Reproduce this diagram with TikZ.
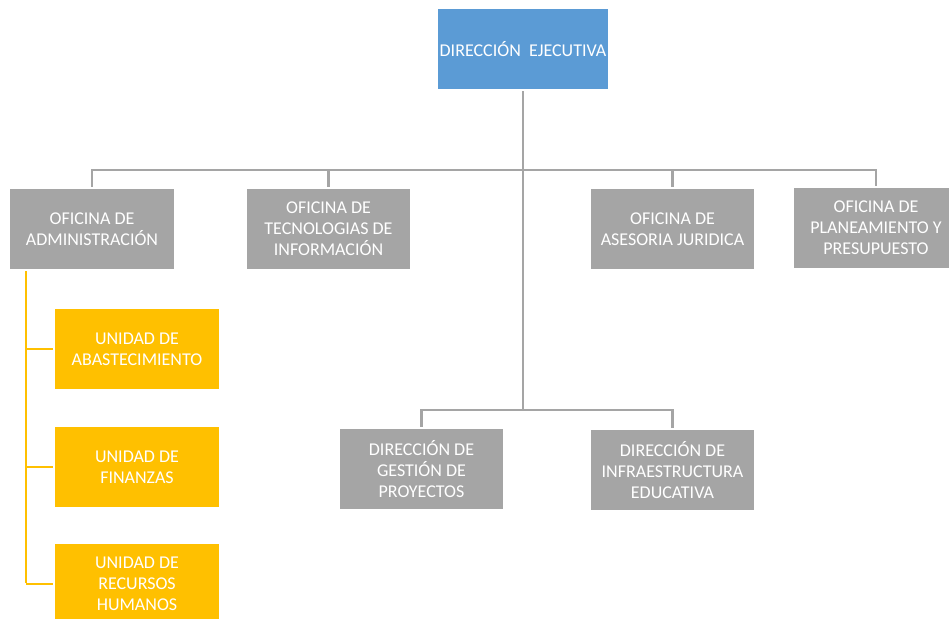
\documentclass[tikz,border=0pt]{standalone}
\usepackage{fontspec}
\setmainfont{Carlito}
\definecolor{boxblue}{HTML}{5B9BD5}
\definecolor{boxgray}{HTML}{A5A5A5}
\definecolor{boxyellow}{HTML}{FFC000}
\definecolor{linegray}{HTML}{A5A5A5}
\begin{document}
\begin{tikzpicture}[x=0.75pt,y=-0.75pt,
  orgbox/.style={rectangle, inner sep=0pt, outer sep=1.8pt, align=center, text=white,
    font=\fontsize{13.5pt}{15.75pt}\selectfont, minimum width=123pt, minimum height=60pt},
  topbox/.style={orgbox, fill=boxblue, minimum width=127.5pt},
  graybox/.style={orgbox, fill=boxgray},
  yellowbox/.style={orgbox, fill=boxyellow},
  gline/.style={draw=linegray, line width=1.6pt},
  yline/.style={draw=boxyellow, line width=1.6pt}]
\useasboundingbox (0,0) rectangle (949,618);
\fill[white] (0,0) rectangle (949,618);

\node[topbox] (top) at (523,49) {DIRECCIÓN\ \ EJECUTIVA};

\node[graybox] (adm) at (92,229) {OFICINA DE\\ADMINISTRACIÓN};
\node[graybox, minimum width=122.25pt] (tec) at (328.5,229) {OFICINA DE\\TECNOLOGIAS DE\\INFORMACIÓN};
\node[graybox, minimum width=122.25pt] (ase) at (672.5,229) {OFICINA DE\\ASESORIA JURIDICA};
\node[graybox] (pla) at (876,228) {OFICINA DE\\PLANEAMIENTO Y\\PRESUPUESTO};

\node[graybox, minimum width=122.25pt] (ges) at (421.5,469) {DIRECCIÓN DE\\GESTIÓN DE\\PROYECTOS};
\node[graybox, minimum width=122.25pt] (inf) at (672.5,470) {DIRECCIÓN DE\\INFRAESTRUCTURA\\EDUCATIVA};

\node[yellowbox] (u1) at (137,349) {UNIDAD DE\\ABASTECIMIENTO};
\node[yellowbox] (u2) at (137,467) {UNIDAD DE\\FINANZAS};
\node[yellowbox] (u3) at (137,584) {UNIDAD DE\\RECURSOS\\HUMANOS};

\coordinate (bus) at (523,170);
\coordinate (bus2) at (523,410);
\coordinate (yv) at (26,583);

\draw[gline] (top.south) -- (bus2);
\draw[gline] (adm.north) |- (bus);
\draw[gline] (tec.north) |- (bus);
\draw[gline] (ase.north) |- (bus);
\draw[gline] (pla.north) |- (bus);
\draw[gline] (ges.north) |- (bus2);
\draw[gline] (inf.north) |- (bus2);

\draw[yline] (adm.south -| yv) -- (yv);
\draw[yline] (u1.west) -- (u1.west -| yv);
\draw[yline] (u2.west) -- (u2.west -| yv);
\draw[yline] (u3.west) -- (u3.west -| yv);
\end{tikzpicture}
\end{document}
